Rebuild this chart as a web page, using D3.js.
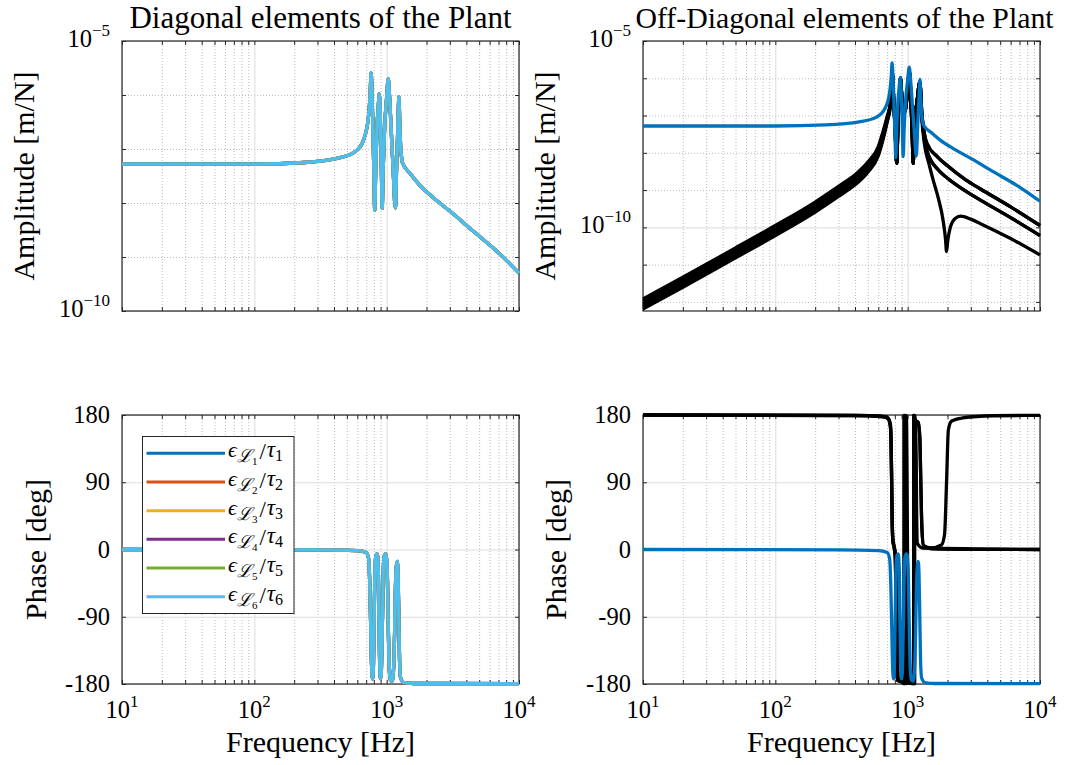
<!DOCTYPE html>
<html><head><meta charset="utf-8">
<script src="https://cdn.jsdelivr.net/npm/d3@7"></script>
<style>
body{margin:0;background:#fff;}
svg text{font-family:"Liberation Serif","DejaVu Serif",serif;fill:#000;}
</style></head><body>
<svg id="c" width="1067" height="765" font-family="Liberation Serif, DejaVu Serif, serif"></svg>
<script>
// ---------------- DATA ----------------
// x axis: frequency [Hz]
const xTickValues = [10, 100, 1000, 10000];
const xTickExps   = ["1", "2", "3", "4"];
// amplitude axes ticks
const ampTickValues = [1e-10, 1e-5];
const ampTickExps   = ["\u221210", "\u22125"];
// phase axis ticks
const phaseTickValues = [-180, -90, 0, 90, 180];
const phaseTickLabels = ["-180", "-90", "0", "90", "180"];

const titles = ["Diagonal elements of the Plant", "Off-Diagonal elements of the Plant"];
const legendIdx = ["1", "2", "3", "4", "5", "6"];
const seriesColors = ["#0072BD", "#D95319", "#EDB120", "#7E2F8E", "#77AC30", "#4DBEEE"];

// Diagonal amplitude: [frequency Hz, log10(amplitude m/N)]
const diagAmpLog = [[10,-7.28],[100,-7.28],[240,-7.25],[430,-7.17],[577,-7.05],[667,-6.84],[729,-6.4],[750,-6.0],[763,-5.59],[772,-5.85],[785,-6.5],[800,-7.4],[813,-8.13],[826,-7.4],[845,-6.6],[865,-6.2],[879,-5.98],[893,-6.3],[910,-7.2],[925,-8.1],[940,-7.4],[965,-6.6],[1000,-6.05],[1028,-5.7],[1050,-6.0],[1080,-6.6],[1120,-7.4],[1163,-8.09],[1190,-7.3],[1215,-6.6],[1238,-6.03],[1255,-6.5],[1275,-6.95],[1300,-7.18],[1313,-7.25],[1500,-7.45],[1761,-7.66],[2300,-7.92],[3000,-8.15],[4500,-8.52],[7000,-8.92],[10000,-9.3]];

// Diagonal phase: [frequency Hz, deg]
const diagPhase = [[10,0],[300,-0.5],[600,-1.5],[700,-4],[730,-12],[745,-45],[755,-90],[765,-140],[775,-168],[785,-173],[795,-152],[805,-90],[815,-30],[830,-8],[850,-6],[865,-30],[875,-90],[885,-150],[897,-173],[910,-166],[920,-132],[930,-90],[940,-40],[955,-10],[985,-6],[1010,-30],[1025,-90],[1042,-150],[1065,-174],[1100,-176],[1130,-157],[1148,-112],[1162,-60],[1180,-25],[1200,-16],[1218,-32],[1235,-90],[1252,-150],[1275,-172],[1350,-178],[1600,-179.3],[10000,-179.5]];

// Off-diagonal amplitudes (black), pieces: low-frequency rise, resonance zone, high-frequency tails
const offLow1 = [[10,-12.19],[20,-11.61],[50,-10.82],[100,-10.22],[200,-9.59],[300,-9.17],[400,-8.86],[500,-8.52],[600,-8.08],[650,-7.66],[700,-7.18],[740,-6.75],[755,-6.22]];
const offLow2 = [[10,-12.12],[20,-11.54],[50,-10.75],[100,-10.15],[200,-9.52],[300,-9.10],[400,-8.79],[500,-8.45],[600,-8.02],[650,-7.61],[700,-7.14],[740,-6.72],[755,-6.21]];
const offLow3 = [[10,-12.05],[20,-11.47],[50,-10.68],[100,-10.08],[200,-9.45],[300,-9.03],[400,-8.72],[500,-8.38],[600,-7.95],[650,-7.55],[700,-7.10],[740,-6.70],[755,-6.20]];
const offLow4 = [[10,-11.98],[20,-11.40],[50,-10.61],[100,-10.01],[200,-9.38],[300,-8.96],[400,-8.65],[500,-8.31],[600,-7.88],[650,-7.49],[700,-7.06],[740,-6.68],[755,-6.19]];
const offLow5 = [[10,-11.92],[20,-11.34],[50,-10.55],[100,-9.95],[200,-9.32],[300,-8.90],[400,-8.59],[500,-8.25],[600,-7.83],[650,-7.44],[700,-7.02],[740,-6.66],[755,-6.18]];
const offPeaks = [[762,-5.8],[785,-6.6],[805,-7.4],[826,-8.28],[845,-7.2],[868,-6.4],[882,-6.0],[900,-6.4],[950,-6.9],[1000,-6.3],[1030,-5.8],[1060,-6.6],[1085,-7.6],[1100,-8.28],[1125,-7.3],[1180,-6.6],[1236,-6.1]];
const offTailA = [[1280,-6.95],[1340,-7.5],[1400,-7.75],[1694,-8.12],[2000,-8.35],[2730,-8.72],[3550,-8.97],[6000,-9.45],[10000,-9.95]];
const offTailB = [[1280,-7.0],[1340,-7.65],[1400,-7.95],[1694,-8.45],[2000,-8.68],[2730,-9.02],[3550,-9.27],[6000,-9.74],[10000,-10.22]];
const offTailC = [[1280,-7.1],[1337,-7.75],[1450,-8.3],[1550,-8.7],[1700,-9.2],[1850,-9.8],[1930,-10.3],[1967,-10.65],[2010,-10.35],[2100,-10.0],[2285,-9.76],[2500,-9.7],[3000,-9.78],[3550,-9.9],[6000,-10.3],[10000,-10.74]];

// Off-diagonal phases (black)
const offPhaseCore = [[10,180],[400,179.5],[650,178],[713,175],[740,165],[750,140],[757,90],[764,40],[775,10],[790,3],[805,-10],[812,-40],[818,-90],[825,-150],[835,-175],[900,-177],[940,-179.5],[941,179.5],[946,170],[952,120],[957,0],[963,-120],[970,-175],[990,-178],[1110,-179.5],[1111,179.5],[1120,176],[1140,173],[1200,170],[1235,150],[1257,90],[1280,30],[1319,5]];
const offPhaseTail0 = [[1500,1],[3000,0.3],[10000,0]];
const offPhaseTail180 = [[1500,2],[1800,6],[1900,20],[1967,90],[2030,160],[2150,172],[2600,176],[4400,179],[10000,179.5]];
const offPhaseK3 = [[10,180],[500,179],[700,177],[740,168],[752,130],[760,60],[770,15],[790,5],[820,-15],[830,-60],[840,-150],[855,-175],[950,-178],[975,-179.5],[976,179.5],[982,160],[990,90],[997,0],[1005,-120],[1015,-176],[1100,-178],[1130,-179.5],[1131,179.5],[1140,175],[1160,120],[1170,40],[1185,8],[1300,2],[10000,0]];

// --------------------------------------------------------------------------
const FONT = "Liberation Serif, DejaVu Serif, serif";
const svg = d3.select("#c");
const P = {
  tl:{x0:122,x1:519,y0:41,y1:311},
  tr:{x0:643,x1:1040,y0:41,y1:311},
  bl:{x0:122,x1:519,y0:415,y1:684},
  br:{x0:643,x1:1040,y0:415,y1:684}
};
const xMinor = [];
[10,100,1000].forEach(d=>{for(let k=2;k<=9;k++) xMinor.push(d*k);});

const TICK_FS = 24.5, SUP_FS = 17, LABEL_FS = 30, TITLE_FS = 31, LW = 3.3;

function mkX(p){ return d3.scaleLog().domain([10,1e4]).range([p.x0,p.x1]); }

function styleGrid(sel, color, dash){
  sel.select(".domain").remove();
  sel.selectAll(".tick text").remove();
  sel.selectAll(".tick line").attr("stroke",color).attr("stroke-width",1).attr("stroke-dasharray",dash||null);
}
function styleTicks(sel){
  sel.select(".domain").remove();
  sel.selectAll(".tick text").remove();
  sel.selectAll(".tick line").attr("stroke","#262626").attr("stroke-width",1);
}

function drawAxesFrame(p, x, y, yMajor, yMinor, withYMinorGrid){
  const g = svg.append("g");
  const h = p.y1-p.y0, w = p.x1-p.x0;
  g.append("g").attr("transform",`translate(0,${p.y1})`)
    .call(d3.axisBottom(x).tickValues(xMinor).tickSize(-h).tickFormat(""))
    .call(s=>styleGrid(s,"#bdbdbd","1,2"));
  if (withYMinorGrid && yMinor.length){
    g.append("g").attr("transform",`translate(${p.x0},0)`)
      .call(d3.axisLeft(y).tickValues(yMinor).tickSize(-w).tickFormat(""))
      .call(s=>styleGrid(s,"#bdbdbd","1,2"));
  }
  g.append("g").attr("transform",`translate(0,${p.y1})`)
    .call(d3.axisBottom(x).tickValues(xTickValues).tickSize(-h).tickFormat(""))
    .call(s=>styleGrid(s,"#dcdcdc"));
  g.append("g").attr("transform",`translate(${p.x0},0)`)
    .call(d3.axisLeft(y).tickValues(yMajor).tickSize(-w).tickFormat(""))
    .call(s=>styleGrid(s,"#dcdcdc"));
  const TL = 4;
  const allX = xTickValues.concat(xMinor);
  const allY = yMajor.concat(yMinor);
  g.append("g").attr("transform",`translate(0,${p.y1})`).call(d3.axisBottom(x).tickValues(allX).tickSize(-TL).tickFormat("")).call(styleTicks);
  g.append("g").attr("transform",`translate(0,${p.y0})`).call(d3.axisTop(x).tickValues(allX).tickSize(-TL).tickFormat("")).call(styleTicks);
  g.append("g").attr("transform",`translate(${p.x0},0)`).call(d3.axisLeft(y).tickValues(allY).tickSize(-TL).tickFormat("")).call(styleTicks);
  g.append("g").attr("transform",`translate(${p.x1},0)`).call(d3.axisRight(y).tickValues(allY).tickSize(-TL).tickFormat("")).call(styleTicks);
  g.append("rect").attr("x",p.x0).attr("y",p.y0).attr("width",w).attr("height",h)
    .attr("fill","none").attr("stroke","#262626").attr("stroke-width",1.2);
}

function clipFor(id,p){
  svg.append("clipPath").attr("id",id).append("rect")
    .attr("x",p.x0-2).attr("y",p.y0-2).attr("width",p.x1-p.x0+4).attr("height",p.y1-p.y0+4);
  return `url(#${id})`;
}

function drawLine(pts, x, y, color, clip, isLog){
  const line = d3.line()
    .x(d=>x(d[0]))
    .y(d=>y(isLog ? Math.pow(10,d[1]) : d[1]))
    .curve(d3.curveMonotoneX);
  svg.append("path").datum(pts).attr("d",line).attr("fill","none")
    .attr("stroke",color).attr("stroke-width",LW).attr("stroke-linejoin","round")
    .attr("clip-path",clip);
}

function txt(x,y,fs,anchor){
  return svg.append("text").attr("x",x).attr("y",y).attr("font-size",fs)
    .attr("font-family",FONT).attr("text-anchor",anchor||"start");
}

function xTickLabels(p,x){
  xTickValues.forEach((v,i)=>{
    const t = txt(x(v),p.y1+34,TICK_FS,"middle");
    t.append("tspan").text("10");
    t.append("tspan").attr("font-size",SUP_FS).attr("dy",-11).text(xTickExps[i]);
  });
}
function ampTickLabels(p,y){
  ampTickValues.forEach((v,i)=>{
    const t = txt(p.x0-12,y(v)+6,TICK_FS,"end");
    t.append("tspan").text("10");
    t.append("tspan").attr("font-size",SUP_FS).attr("dy",-11).text(ampTickExps[i]);
  });
}
function phaseTickLabelsDraw(p,y){
  phaseTickValues.forEach((v,i)=>{
    txt(p.x0-12,y(v)+8,TICK_FS,"end").text(phaseTickLabels[i]);
  });
}
function yLabel(s, xb, yc){
  svg.append("text").attr("transform",`translate(${xb},${yc}) rotate(-90)`).attr("text-anchor","middle")
    .attr("font-family",FONT).attr("font-size",LABEL_FS).text(s);
}

// ---- scales ----
const xTL = mkX(P.tl), xTR = mkX(P.tr), xBL = mkX(P.bl), xBR = mkX(P.br);
const yTL = d3.scaleLog().domain([1e-10,1e-5]).range([P.tl.y1,P.tl.y0]);
const yTR = d3.scaleLog().domain([Math.pow(10,-12.244),1e-5]).range([P.tr.y1,P.tr.y0]);
const yBL = d3.scaleLinear().domain([-180,180]).range([P.bl.y1,P.bl.y0]);
const yBR = d3.scaleLinear().domain([-180,180]).range([P.br.y1,P.br.y0]);

const decMinorTL = [1e-9,1e-8,1e-7,1e-6];
const decMinorTR = [1e-12,1e-11,1e-9,1e-8,1e-7,1e-6];

drawAxesFrame(P.tl,xTL,yTL,ampTickValues,decMinorTL,true);
drawAxesFrame(P.tr,xTR,yTR,ampTickValues,decMinorTR,true);
drawAxesFrame(P.bl,xBL,yBL,phaseTickValues,[],false);
drawAxesFrame(P.br,xBR,yBR,phaseTickValues,[],false);

const cTL = clipFor("ctl",P.tl), cTR = clipFor("ctr",P.tr), cBL = clipFor("cbl",P.bl), cBR = clipFor("cbr",P.br);

seriesColors.forEach(c=>drawLine(diagAmpLog,xTL,yTL,c,cTL,true));
seriesColors.forEach(c=>drawLine(diagPhase,xBL,yBL,c,cBL,false));

const offCurves = [
  offLow1.concat(offPeaks,offTailB),
  offLow2.concat(offPeaks,offTailA),
  offLow3.concat(offPeaks,offTailC),
  offLow4.concat(offPeaks,offTailA),
  offLow5.concat(offPeaks,offTailB)
];
offCurves.forEach(cv=>drawLine(cv,xTR,yTR,"#000",cTR,true));
drawLine(diagAmpLog,xTR,yTR,seriesColors[0],cTR,true);

[offPhaseCore.concat(offPhaseTail0), offPhaseCore.concat(offPhaseTail180), offPhaseK3]
  .forEach(cv=>drawLine(cv,xBR,yBR,"#000",cBR,false));
drawLine(diagPhase,xBR,yBR,seriesColors[0],cBR,false);

xTickLabels(P.bl,xBL); xTickLabels(P.br,xBR);
ampTickLabels(P.tl,yTL); ampTickLabels(P.tr,yTR);
phaseTickLabelsDraw(P.bl,yBL); phaseTickLabelsDraw(P.br,yBR);

txt((P.tl.x0+P.tl.x1)/2,28,TITLE_FS,"middle").text(titles[0]);
txt((P.tr.x0+P.tr.x1)/2+3,28,TITLE_FS-1.2,"middle").text(titles[1]);
yLabel("Amplitude [m/N]", P.tl.x0-88, (P.tl.y0+P.tl.y1)/2);
yLabel("Amplitude [m/N]", P.tr.x0-88, (P.tr.y0+P.tr.y1)/2);
yLabel("Phase [deg]", P.bl.x0-76, (P.bl.y0+P.bl.y1)/2);
yLabel("Phase [deg]", P.br.x0-77, (P.br.y0+P.br.y1)/2);
txt((P.bl.x0+P.bl.x1)/2,752,LABEL_FS,"middle").text("Frequency [Hz]");
txt((P.br.x0+P.br.x1)/2,752,LABEL_FS,"middle").text("Frequency [Hz]");

// legend
const lg = svg.append("g");
lg.append("rect").attr("x",142.5).attr("y",436.5).attr("width",151.5).attr("height",177)
  .attr("fill","#fff").attr("stroke","#262626").attr("stroke-width",1);
const rowY = d3.scalePoint().domain(legendIdx).range([453.3,596.7]);
legendIdx.forEach((k,i)=>{
  const yy = rowY(k);
  lg.append("line").attr("x1",146.5).attr("x2",225).attr("y1",yy).attr("y2",yy)
    .attr("stroke",seriesColors[i]).attr("stroke-width",3);
  const t = lg.append("text").attr("x",228).attr("y",yy+4).attr("font-size",22).attr("font-family",FONT);
  t.append("tspan").attr("font-style","italic").text("\u03F5");
  t.append("tspan").attr("font-size",18).attr("dy",5).attr("font-style","italic").text("\u2112");
  t.append("tspan").attr("font-size",11).attr("dy",3).text(k);
  t.append("tspan").attr("font-size",23).attr("dy",-6).attr("dx",2).text("/");
  t.append("tspan").attr("font-size",23).attr("dy",-2).attr("dx",1).attr("font-style","italic").text("\u03C4");
  t.append("tspan").attr("font-size",16).attr("dy",4).text(k);
});
</script>
</body></html>
